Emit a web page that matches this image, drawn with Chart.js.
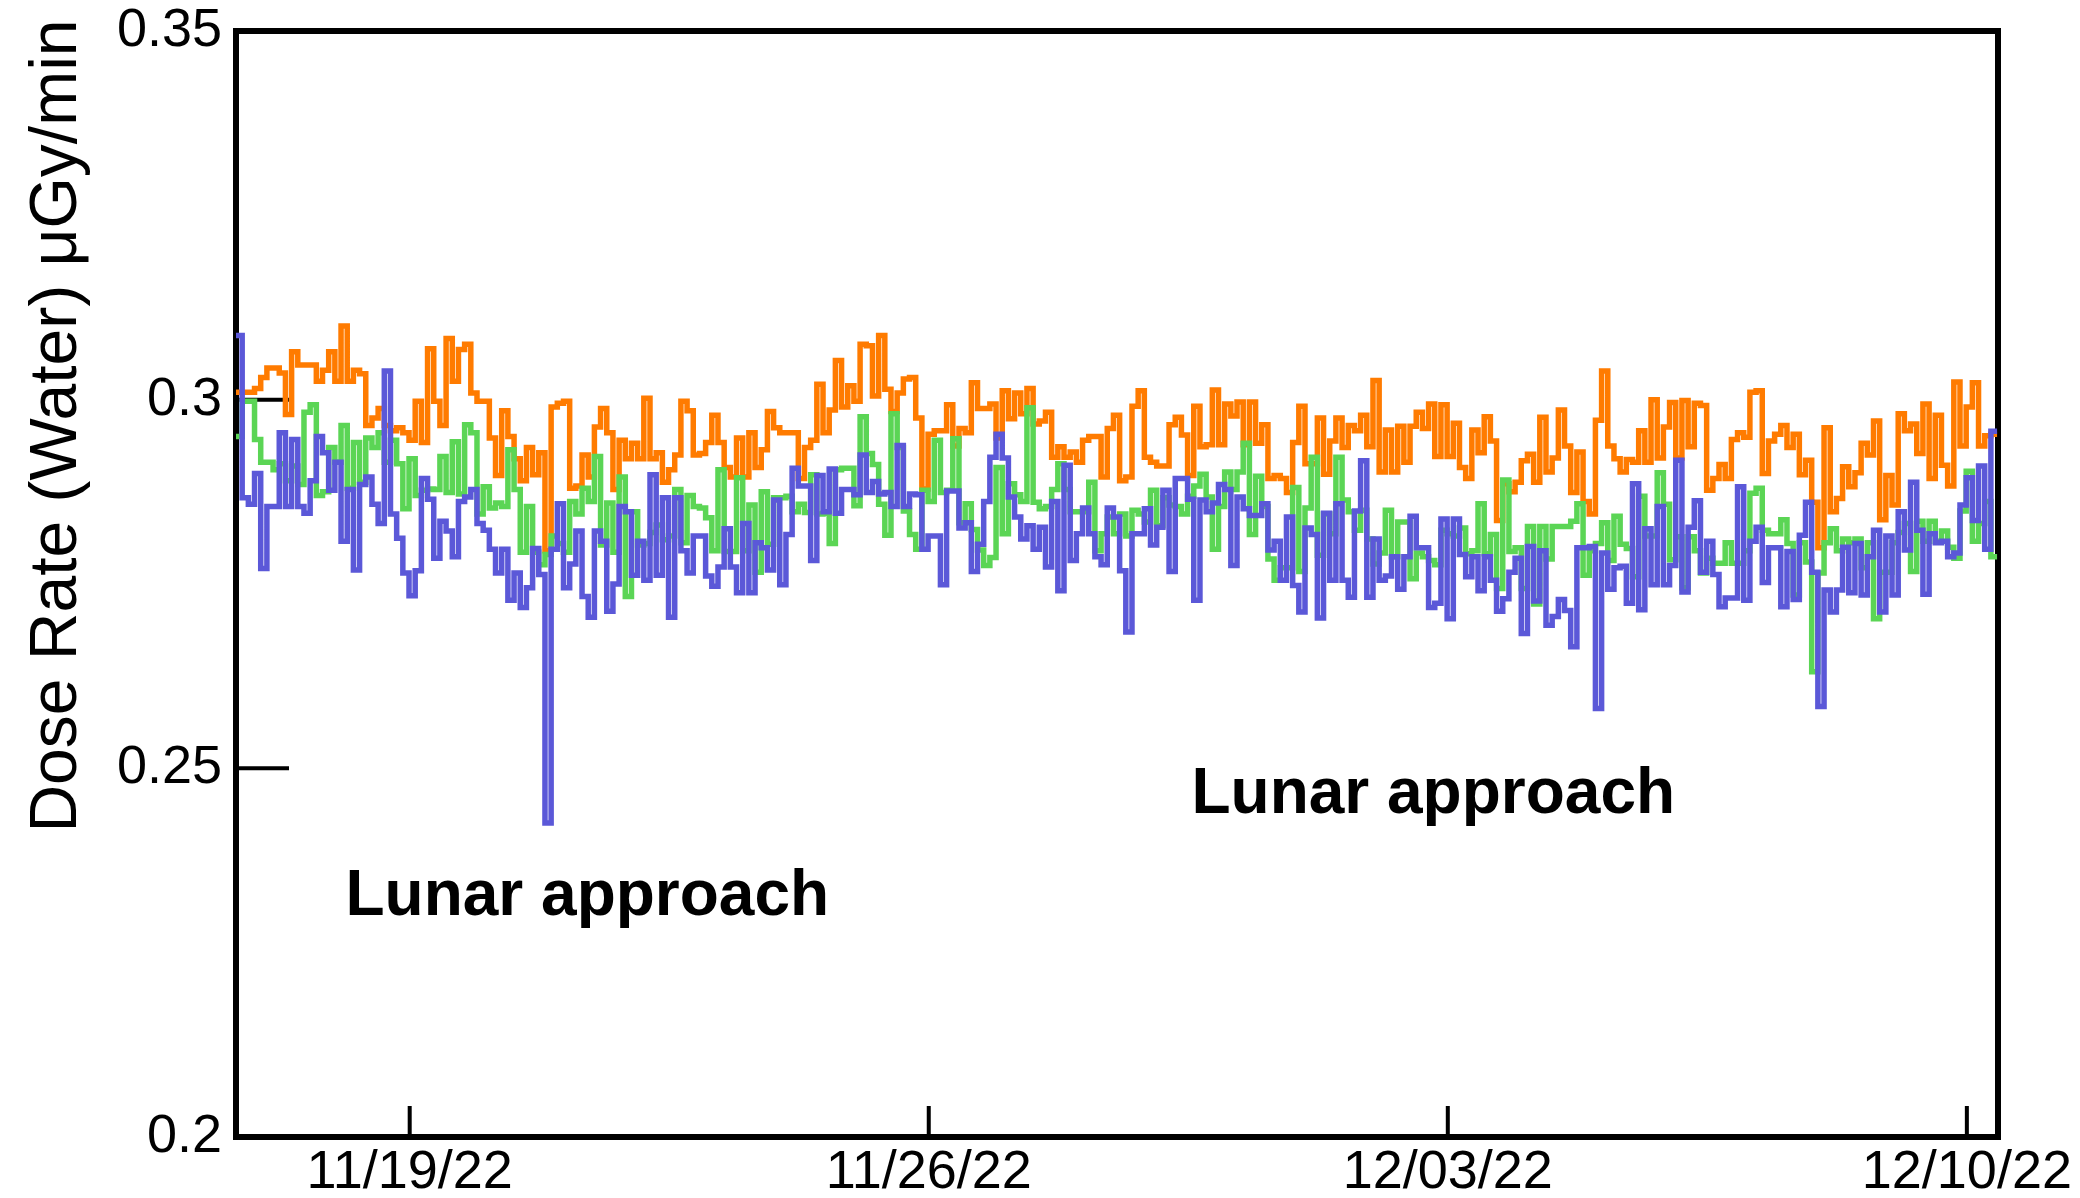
<!DOCTYPE html>
<html>
<head>
<meta charset="utf-8">
<title>Dose Rate (Water)</title>
<script src="https://cdn.jsdelivr.net/npm/chart.js@4.4.0/dist/chart.umd.min.js"></script>
<style>
  html, body { margin: 0; padding: 0; background: #fff; }
  canvas { display: block; }
</style>
</head>
<body>
<canvas id="doseChart" width="2080" height="1198"></canvas>
<script>
// 2-hour bins; x is counted in days from 11/16/22 00:00
const binStartDay = 0.6575;
const binDays = 2 / 24;

const blueDose = [
  .3087, .2867, .2858, .29, .2771, .2855, .2855, .2955, .2855, .2946,
  .2855, .2846, .289, .295, .2928, .2877, .2915, .2808, .2878, .2769,
  .2885, .2895, .2858, .2832, .3039,
  .2845, .2812, .2765, .2734, .2768, .2893, .2865, .2785, .2835, .2822,
  .2787, .2862, .2868, .2878, .2832, .2823, .2797, .2765, .2797, .2728,
  .2765, .2718, .2745, .2798, .2763, .2426, .2797, .2859, .2745,
  .2777, .2822, .2733, .2705, .2822, .2808, .2713, .275, .2855, .2848,
  .2762, .2808, .2755, .2898, .2762, .2867, .2705, .2867, .2795,
  .2765, .2815,
  .2815, .2761, .2747, .2773, .2825, .2773, .2738, .2832, .2738, .2806,
  .2799, .2769, .2864, .2749, .2817, .2907, .2883, .2883, .2782, .2897,
  .2848, .2906, .2846, .2878, .2878,
  .2871, .2925, .2874, .2889, .2872, .2874, .2855, .2938, .2855, .2872,
  .2871, .2797, .2815, .2815, .2749, .2876, .2876, .2826, .2833, .2767,
  .2804, .2862, .2922, .2953,
  .2921, .2868, .2841, .2811, .2829, .2797, .2827, .2773, .2862, .2741,
  .2911, .2782, .2818, .2853, .2818, .2787, .2776, .2853, .2841, .2768,
  .2685, .2818,
  .2818, .2852, .2803, .2827, .2877, .2767, .2893, .2893, .2865, .2728,
  .2864, .2848, .286, .2885, .2878, .2775, .2868, .2852, .2843, .2843,
  .2859, .2796, .2808, .2755,
  .2841, .2748, .2712, .2826, .2817, .2704, .2846, .2755, .2859, .2755,
  .2732, .2849, .2917, .2732, .2811, .2755, .2761, .2787, .2743, .2787,
  .2842, .2799, .2799, .2718,
  .2724, .2838, .2703, .2838, .279, .276, .2787, .2741, .2787, .2755,
  .2713, .273, .2766, .2785, .2683, .2801, .2727, .2795, .2694, .2706, .2729,
  .2714, .2665, .2799, .2799, .2801, .2581, .2792, .2743, .2772, .2774,
  .2724, .2886, .2715, .2825, .2749, .2855, .2749, .2775, .2918, .2739,
  .2827, .2863, .2766, .2808, .2763, .2719, .2731, .2731, .2882, .2728,
  .2808, .2827, .2752, .2799, .2799, .2719, .2794, .2729, .2816, .2861,
  .2766, .2584, .2742, .2712, .2742, .28, .2738, .2805, .2735, .2787,
  .2823, .2712, .2815, .2735, .2848, .2796, .2888, .2823, .2736, .2818,
  .2806, .2808, .2787, .2792, .2857, .2894, .2836, .291, .2797, .2957
];

const greenDose = [
  .295, .2998, .2998, .2946, .2915, .2915, .2905, .2913, .289, .291,
  .2885, .2983, .2993, .287, .2875, .2935, .2915, .2965, .288, .2942,
  .2888, .2948, .2935, .2955, .2915,
  .2945, .2913, .2852, .292, .287, .2877, .2879, .2878, .2923, .2874,
  .2943, .2872, .2966, .2955, .2845, .2882, .2853, .286, .2855, .2932,
  .2878, .2793, .2855, .2793, .2776, .279, .2815, .2805, .2793,
  .2862, .2845, .288, .2862, .2923, .2803, .286, .2793, .2895, .2733,
  .2848, .2803, .2805, .282, .283, .281, .2815, .2878, .2806,
  .287, .2855,
  .2853, .284, .2795, .2905, .2794, .2794, .2894, .2795, .2857, .2766,
  .2875, .2804, .2867, .2867, .2869, .2848, .2858, .2847, .2898, .2845,
  .2846, .2805, .2905, .2907, .2907,
  .2856, .2977, .2927, .2912, .2858, .2816, .2981, .2935, .2849, .2817,
  .2797, .2877, .2862, .2945, .2874, .2877, .2947, .2833, .2859, .2824,
  .2796, .2775, .2786, .2908,
  .2818, .2886, .2871, .2862, .2989, .2861, .2852, .2855, .2878, .2913,
  .2878, .2848, .2848, .2848, .2888, .2795, .2818, .2841, .2818, .2845,
  .2815, .285,
  .2845, .2834, .2877, .2829, .2867, .2857, .2855, .2845, .2869, .2883,
  .2899, .2868, .2797, .2855, .2902, .2878, .2902, .2941, .2817, .2896,
  .2855, .2784, .2755, .2772,
  .2772, .2881, .2767, .2853, .2922, .2789, .2845, .2818, .2922, .2864,
  .2848, .2823, .285, .2811, .2777, .2792, .285, .2787, .2834, .2834,
  .2757, .2792, .2787, .2782,
  .2776, .2823, .2818, .2815, .2826, .2791, .2795, .2859, .2791, .2817,
  .2744, .2891, .2794, .2799, .2744, .2828, .2723, .2828, .2784, .2828, .2828,
  .2828, .2835, .2859, .2762, .2795, .2805, .2833, .2782, .2842, .2804,
  .2798, .276, .2869, .2815, .2815, .2901, .2858, .2783, .2814, .2745,
  .2814, .2795, .2765, .2785, .2778, .2778, .2806, .2778, .2778, .2795,
  .2873, .288, .2823, .2818, .2818, .2837, .2805, .2735, .2806, .278,
  .2631, .2765, .2806, .2825, .2795, .2811, .2806, .2811, .2772, .2806,
  .2703, .2766, .2766, .2806, .282, .2832, .2767, .2835, .2808, .2835,
  .2808, .2822, .28, .2785, .2849, .2903, .2808, .2832, .2862, .2787
];

const orangeDose = [
  .301, .301, .301, .3015, .303, .3043, .3043, .3036, .298, .3065,
  .3047, .3047, .3047, .3025, .304, .3065, .3025, .310, .3025, .304,
  .3035, .2965, .2975, .2988, .2965,
  .2958, .2962, .2955, .2945, .2998, .2942, .3069, .2998, .2965, .3083,
  .3025, .3068, .3075, .3009, .2998, .2998, .2948, .2897, .2985, .295,
  .292, .289, .2935, .2898, .2928, .2795, .299, .2995, .2998,
  .288, .2883, .2925, .2895, .2963, .2988, .2955, .2878, .2945, .292,
  .2941, .292, .3002, .292, .2928, .2888, .2905, .2925, .2998,
  .2985, .2925,
  .2927, .2942, .2979, .2942, .2908, .2895, .2948, .2895, .2955, .2908,
  .2932, .2984, .2962, .2955, .2955, .2955, .2893, .2935, .2945, .3021,
  .2955, .2986, .3053, .299, .3019,
  .2998, .3075, .3073, .3005, .3087, .3014, .2984, .3009, .3028, .303,
  .2975, .2879, .2953, .2958, .2958, .2993, .2937, .2961, .2955, .3023,
  .2988, .2988, .2994, .2948,
  .3012, .2974, .3009, .2981, .3015, .2967, .2971, .2983, .2922, .2936,
  .2922, .2929, .2915, .2945, .295, .295, .2895, .2961, .2979, .289,
  .2895, .2991,
  .3012, .2922, .2915, .291, .291, .2966, .2976, .2952, .2897, .2991,
  .2936, .2939, .3013, .2939, .2994, .2978, .2997, .2939, .2997, .2941,
  .2966, .2893, .2897, .2893,
  .2874, .2942, .2991, .2913, .2913, .2975, .2899, .2944, .2975, .2935,
  .2965, .2958, .2979, .2936, .3026, .2902, .2959, .2902, .2964, .2915,
  .2964, .2983, .2961, .2994,
  .2923, .2993, .2923, .2968, .2908, .2893, .2959, .2928, .2977, .2944,
  .2836, .2886, .2875, .2888, .2917, .2926, .2888, .2976, .2902, .2921, .2986,
  .2937, .2874, .2929, .2862, .2845, .2972, .3039, .2937, .292, .2902,
  .2919, .2915, .2958, .2915, .3, .2921, .2963, .2996, .2921, .2999,
  .2936, .2995, .2992, .2877, .2893, .2912, .2893, .2946, .2955, .2949,
  .301, .3012, .29, .2944, .2953, .2965, .2935, .2953, .2898, .2918,
  .2861, .2799, .2962, .2848, .2866, .2909, .2882, .2901, .2941, .2925,
  .2971, .2837, .2897, .2857, .2981, .2958, .2967, .2927, .2994, .2893,
  .2979, .2911, .2883, .3024, .2937, .299, .3023, .2937, .2951, .2953
];

const tickDays = [3, 10, 17, 24];
const tickLabels = ['11/19/22', '11/26/22', '12/03/22', '12/10/22'];
const yTickValues = [0.2, 0.25, 0.3, 0.35];
const yTickLabels = ['0.2', '0.25', '0.3', '0.35'];
const yTitle = 'Dose Rate (Water) \u03bcGy/min';
const notes = [
  { text: 'Lunar approach', day: 2.134, dose: 0.2301 },
  { text: 'Lunar approach', day: 13.543, dose: 0.2439 },
];

const plainFont = '"Liberation Sans", Arial, Helvetica, sans-serif';

function toPoints(values) {
  const pts = values.map((v, i) => ({ x: binStartDay + i * binDays, y: v }));
  // close the last bin so the final step reaches its end
  pts.push({ x: binStartDay + values.length * binDays, y: values[values.length - 1] });
  return pts;
}

function stepSet(label, values, color) {
  return {
    label,
    data: toPoints(values),
    stepped: true,
    borderColor: color,
    borderWidth: 5.5,
    borderJoinStyle: 'miter',
    pointRadius: 0,
    fill: false,
  };
}

const framePlugin = {
  id: 'frame',
  beforeDatasetsDraw(chart) {
    const { ctx, chartArea: a, scales } = chart;
    ctx.save();
    ctx.strokeStyle = '#000';
    ctx.lineJoin = 'miter';
    ctx.lineWidth = 6;
    ctx.strokeRect(a.left, a.top, a.right - a.left, a.bottom - a.top);
    ctx.lineWidth = 4;
    ctx.beginPath();
    scales.y.ticks.forEach((t) => {
      const py = scales.y.getPixelForValue(t.value);
      ctx.moveTo(a.left, py);
      ctx.lineTo(a.left + 53, py);
    });
    scales.x.ticks.forEach((t) => {
      const px = scales.x.getPixelForValue(t.value);
      ctx.moveTo(px, a.bottom);
      ctx.lineTo(px, a.bottom - 31);
    });
    ctx.stroke();
    ctx.restore();
  },
};

const textPlugin = {
  id: 'texts',
  afterDraw(chart) {
    const { ctx, scales } = chart;
    ctx.save();
    ctx.fillStyle = '#000';
    ctx.font = `66px ${plainFont}`;
    ctx.translate(76, 426);
    ctx.rotate(-Math.PI / 2);
    ctx.textAlign = 'center';
    ctx.textBaseline = 'alphabetic';
    ctx.fillText(yTitle, 0, 0);
    ctx.restore();

    ctx.save();
    ctx.fillStyle = '#000';
    ctx.font = `bold 64px ${plainFont}`;
    ctx.textAlign = 'left';
    ctx.textBaseline = 'alphabetic';
    notes.forEach((n) => {
      ctx.fillText(n.text, scales.x.getPixelForValue(n.day), scales.y.getPixelForValue(n.dose));
    });
    ctx.restore();
  },
};

new Chart(document.getElementById('doseChart'), {
  type: 'line',
  data: {
    datasets: [
      stepSet('Blue', blueDose, '#5b58d8'),
      stepSet('Green', greenDose, '#5bd555'),
      stepSet('Orange', orangeDose, '#ff7b00'),
    ],
  },
  options: {
    responsive: false,
    animation: false,
    events: [],
    layout: { padding: { left: 0, right: 82, top: 31, bottom: 0 } },
    plugins: {
      legend: { display: false },
      tooltip: { enabled: false },
    },
    scales: {
      x: {
        type: 'linear',
        min: 0.6575,
        max: 24.42,
        grid: { display: false, drawTicks: false },
        border: { display: false },
        afterBuildTicks: (scale) => {
          scale.ticks = tickDays.map((d) => ({ value: d }));
        },
        afterFit: (scale) => {
          scale.height = 61;
          scale.paddingLeft = 0;
          scale.paddingRight = 0;
        },
        ticks: {
          autoSkip: false,
          maxRotation: 0,
          padding: 9,
          color: '#000',
          font: { family: plainFont, size: 54, lineHeight: 1 },
          callback: (v) => tickLabels[tickDays.indexOf(v)],
        },
      },
      y: {
        min: 0.2,
        max: 0.35,
        grid: { display: false, drawTicks: false },
        border: { display: false },
        afterBuildTicks: (scale) => {
          scale.ticks = yTickValues.map((v) => ({ value: v }));
        },
        afterFit: (scale) => {
          scale.width = 236;
          scale.paddingTop = 0;
          scale.paddingBottom = 0;
        },
        ticks: {
          padding: 14,
          color: '#000',
          font: { family: plainFont, size: 54, lineHeight: 1 },
          callback: (v) => yTickLabels[yTickValues.indexOf(v)],
        },
      },
    },
  },
  plugins: [framePlugin, textPlugin],
});
</script>
</body>
</html>
